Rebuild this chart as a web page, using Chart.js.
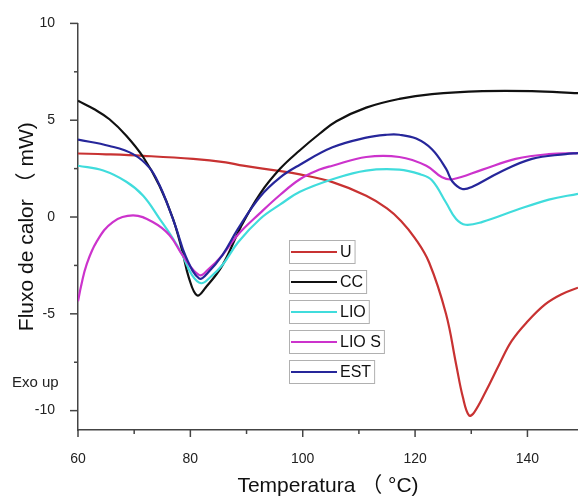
<!DOCTYPE html>
<html>
<head>
<meta charset="utf-8">
<script src="https://cdn.jsdelivr.net/npm/chart.js@4/dist/chart.umd.min.js"></script>
<style>
html,body{margin:0;padding:0;background:#fff;overflow:hidden}
canvas{display:block}
</style>
</head>
<body>
<canvas id="c" width="578" height="500"></canvas>
<script>
// ---- data ----
const seriesNames = ['U', 'CC', 'LIO', 'LIO S', 'EST'];

const U_T = [60, 65, 71.6, 80.5, 86.3, 89.4, 95.4, 99.5, 105.3, 111.3, 115, 117.5, 120, 122.5, 125.5, 127.3, 128.5, 129.6, 130.5, 132.6, 135, 137.2, 140, 143.2, 146, 149];
const U_Y = [3.28, 3.24, 3.16, 3.0, 2.82, 2.65, 2.4, 2.2, 1.8, 1.1, 0.45, -0.2, -1.1, -2.35, -5.0, -7.6, -9.3, -10.25, -10.1, -9.0, -7.6, -6.4, -5.4, -4.5, -4.0, -3.65];

const CC_T = [60, 63, 65.6, 68.6, 71.6, 74.5, 76.9, 78.6, 79.7, 81.2, 82.7, 85.7, 89, 92.4, 96, 99.5, 103, 106, 111.3, 117.2, 123, 132, 140.8, 149];
const CC_Y = [6.0, 5.55, 5.05, 4.2, 3.1, 1.62, -0.08, -1.8, -3.1, -4.05, -3.65, -2.5, -0.5, 1.2, 2.5, 3.45, 4.3, 4.95, 5.65, 6.1, 6.35, 6.5, 6.5, 6.4];

const LIO_T = [60, 64.5, 68.6, 71.6, 74.5, 76.9, 78.6, 80.3, 81.9, 83.4, 85.7, 88.5, 92.4, 96, 99.5, 105.3, 111.3, 117.2, 121, 123, 125.5, 127.3, 129, 132, 137.9, 143.8, 149];
const LIO_Y = [2.65, 2.4, 1.82, 1.1, -0.08, -1.11, -1.97, -3.0, -3.42, -3.15, -2.48, -1.3, -0.1, 0.65, 1.3, 1.95, 2.4, 2.45, 2.2, 1.9, 0.75, -0.1, -0.4, -0.25, 0.35, 0.9, 1.2];

const LIOS_T = [60, 60.6, 61.5, 63.3, 66.2, 69.8, 73.3, 76.3, 78.6, 81.6, 83.2, 85.7, 88.5, 92.4, 96, 99.5, 103, 105.3, 111.3, 117.2, 122, 124.8, 126.7, 132, 137.9, 143.8, 149];
const LIOS_Y = [-4.35, -3.5, -2.48, -1.28, -0.26, 0.08, -0.26, -0.94, -1.97, -3.0, -2.7, -1.97, -0.9, 0.2, 1.15, 1.95, 2.45, 2.65, 3.1, 3.1, 2.65, 2.05, 1.95, 2.45, 3.0, 3.25, 3.3];

const EST_T = [60, 65.6, 69.8, 72.7, 74.5, 76, 77.5, 79.2, 81.6, 83.2, 85.7, 88.5, 92.4, 96, 99.5, 105.3, 111.3, 115, 117.2, 120.2, 123, 125.5, 126.6, 128.4, 130.1, 135, 140.8, 146.8, 149];
const EST_Y = [4.0, 3.67, 3.25, 2.55, 1.65, 0.6, -0.6, -2.05, -3.18, -2.85, -1.97, -0.6, 1.05, 2.05, 2.7, 3.6, 4.1, 4.25, 4.25, 4.05, 3.5, 2.5, 1.85, 1.45, 1.55, 2.3, 3.0, 3.25, 3.3];

const xTickLabels = [60, 80, 100, 120, 140];
const yTickLabels = [-10, -5, 0, 5, 10];

const seriesColors = ['#c83232', '#111111', '#40dcdc', '#cc33cc', '#26269a'];

// ---- build datasets ----
function pts(t, y) { return t.map((v, i) => ({ x: v, y: y[i] })); }
const seriesData = [pts(U_T, U_Y), pts(CC_T, CC_Y), pts(LIO_T, LIO_Y), pts(LIOS_T, LIOS_Y), pts(EST_T, EST_Y)];
const drawOrder = [5, 4, 3, 2, 1];

const datasets = seriesNames.map((n, i) => ({
  label: n,
  data: seriesData[i],
  borderColor: seriesColors[i],
  backgroundColor: seriesColors[i],
  borderWidth: 2.2,
  pointRadius: 0,
  fill: false,
  tension: 0.4,
  order: drawOrder[i]
}));

Chart.defaults.font.family = "'Liberation Sans', Arial, 'Noto Sans CJK SC', sans-serif";

const axisColor = '#444';

const decorPlugin = {
  id: 'decor',
  afterDraw(chart) {
    const ctx = chart.ctx;
    const xs = chart.scales.x, ys = chart.scales.y, a = chart.chartArea;
    ctx.save();
    ctx.strokeStyle = axisColor;
    ctx.lineWidth = 1.5;
    // outward tick marks (major/minor)
    xs.ticks.forEach(t => {
      const p = xs.getPixelForValue(t.value);
      const len = xTickLabels.includes(t.value) ? 7 : 4;
      ctx.beginPath(); ctx.moveTo(p, a.bottom); ctx.lineTo(p, a.bottom + len); ctx.stroke();
    });
    ys.ticks.forEach(t => {
      const p = ys.getPixelForValue(t.value);
      const len = yTickLabels.includes(t.value) ? 8 : 4;
      ctx.beginPath(); ctx.moveTo(a.left, p); ctx.lineTo(a.left - len, p); ctx.stroke();
    });
    // Exo up note
    ctx.fillStyle = '#222';
    ctx.font = "15px 'Liberation Sans', Arial, sans-serif";
    ctx.textAlign = 'left';
    ctx.textBaseline = 'middle';
    ctx.fillText('Exo up', 12, 383);
    // legend boxes
    const lx = 289, ly0 = 240, step = 30, bh = 23, lineEnd = 337;
    ctx.font = "16px 'Liberation Sans', Arial, sans-serif";
    chart.data.datasets.forEach((ds, i) => {
      const top = ly0 + i * step;
      const tw = ctx.measureText(ds.label).width;
      const bw = (lineEnd + 3 + tw + 3) - lx;
      ctx.strokeStyle = '#b0b0b0';
      ctx.lineWidth = 1;
      ctx.strokeRect(lx + 0.5, top + 0.5, bw, bh);
      ctx.strokeStyle = ds.borderColor;
      ctx.lineWidth = 2.2;
      ctx.beginPath(); ctx.moveTo(lx + 2, top + bh / 2 + 0.5); ctx.lineTo(lineEnd, top + bh / 2 + 0.5); ctx.stroke();
      ctx.fillStyle = '#111';
      ctx.fillText(ds.label, lineEnd + 3, top + bh / 2 + 1.5);
    });
    ctx.restore();
  }
};

new Chart(document.getElementById('c'), {
  type: 'line',
  data: { datasets },
  options: {
    responsive: false,
    animation: false,
    layout: { padding: { top: 20, right: 0, bottom: 0, left: 0 } },
    plugins: { legend: { display: false }, tooltip: { enabled: false } },
    scales: {
      x: {
        type: 'linear',
        min: 60,
        max: 149,
        grid: { display: false },
        border: { display: true, color: axisColor, width: 1.5 },
        ticks: {
          stepSize: 10,
          includeBounds: false,
          autoSkip: false,
          maxRotation: 0,
          padding: 13,
          color: '#222',
          font: { size: 14 },
          callback: v => xTickLabels.includes(v) ? String(v) : ''
        },
        title: {
          display: true,
          text: 'Temperatura （ °C)',
          color: '#111',
          font: { size: 21 },
          padding: { top: 0, bottom: 1 }
        },
        afterFit: s => { s.height = 70; }
      },
      y: {
        type: 'linear',
        min: -11,
        max: 10,
        grid: { display: false },
        border: { display: true, color: axisColor, width: 1.5 },
        ticks: {
          stepSize: 2.5,
          includeBounds: false,
          autoSkip: false,
          padding: 15,
          color: '#222',
          font: { size: 14 },
          callback: v => yTickLabels.includes(v) ? String(v) : ''
        },
        title: {
          display: true,
          text: 'Fluxo de calor （ mW)',
          color: '#111',
          font: { size: 21 },
          padding: { top: 15, bottom: 0 }
        },
        afterFit: s => { s.width = 78; }
      }
    }
  },
  plugins: [decorPlugin]
});
</script>
</body>
</html>
